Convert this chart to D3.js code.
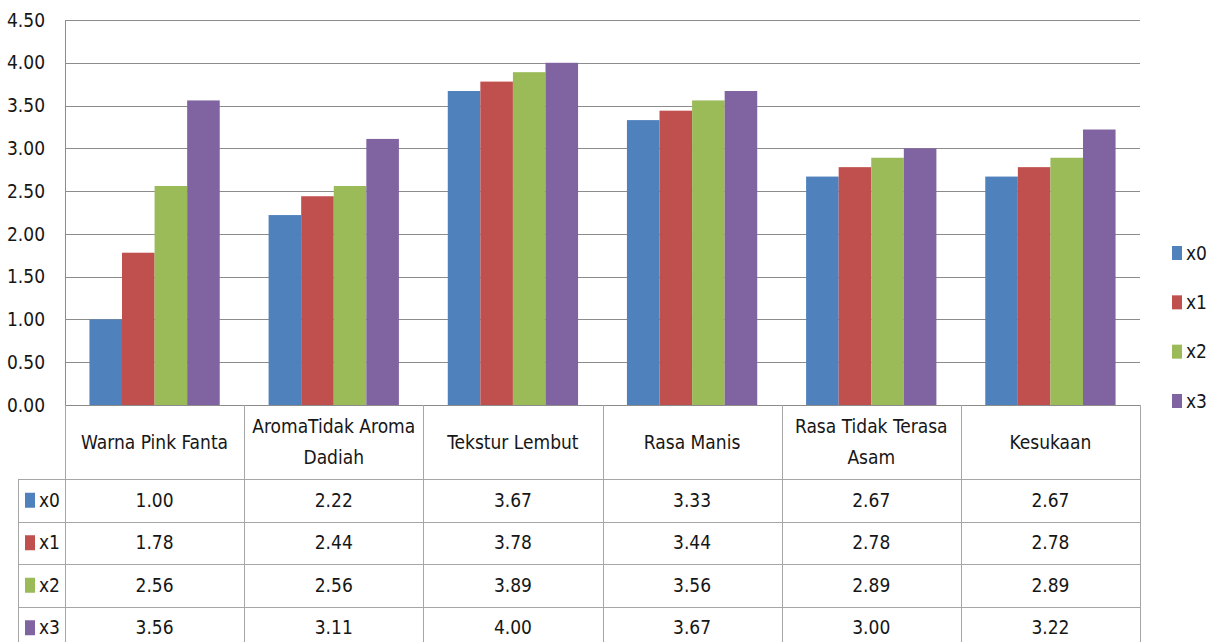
<!DOCTYPE html>
<html>
<head>
<meta charset="utf-8">
<script src="https://cdn.jsdelivr.net/npm/d3@7"></script>
<style>
  body { margin: 0; background: #fff; }
  svg { display: block; }
  text { font-family: "DejaVu Sans Condensed", "Liberation Sans", sans-serif; font-stretch: condensed; fill: #161616; }
</style>
</head>
<body>
<svg id="chart" width="1209" height="642"></svg>
<script>
// categories (two-line labels split with "|")
const categories = [
  "Warna Pink Fanta",
  "AromaTidak Aroma|Dadiah",
  "Tekstur Lembut",
  "Rasa Manis",
  "Rasa Tidak Terasa|Asam",
  "Kesukaan"
];
const seriesNames = ["x0", "x1", "x2", "x3"];
const x0Values = [1.00, 2.22, 3.67, 3.33, 2.67, 2.67];
const x1Values = [1.78, 2.44, 3.78, 3.44, 2.78, 2.78];
const x2Values = [2.56, 2.56, 3.89, 3.56, 2.89, 2.89];
const x3Values = [3.56, 3.11, 4.00, 3.67, 3.00, 3.22];
const yTicks = [0, 0.5, 1, 1.5, 2, 2.5, 3, 3.5, 4, 4.5];
const colors = ["#4F81BD", "#C0504D", "#9BBB59", "#8064A2"];

const series = [x0Values, x1Values, x2Values, x3Values];

const svg = d3.select("#chart");

const plotLeft = 65, plotRight = 1140, plotTop = 20, plotBottom = 405;
const tableLeft = 18;
const headerBottom = 479;
const rowH = 42.5;
const fontSize = 19;

const x = d3.scaleBand().domain(d3.range(categories.length)).range([plotLeft, plotRight]);
const xs = d3.scaleBand().domain(d3.range(seriesNames.length))
  .range([0, x.bandwidth()]).paddingInner(0).paddingOuter(0.75);
const y = d3.scaleLinear().domain([0, 4.5]).range([plotBottom, plotTop]);

// gridlines
svg.append("g")
  .selectAll("line")
  .data(yTicks)
  .join("line")
  .attr("x1", plotLeft)
  .attr("x2", plotRight)
  .attr("y1", d => Math.round(y(d)) + 0.5)
  .attr("y2", d => Math.round(y(d)) + 0.5)
  .attr("stroke", "#8c8c8c")
  .attr("stroke-width", 1);

// y labels
svg.append("g")
  .selectAll("text")
  .data(yTicks)
  .join("text")
  .attr("x", 45)
  .attr("y", d => y(d))
  .attr("dy", "0.35em")
  .attr("text-anchor", "end")
  .attr("font-size", fontSize)
  .text(d => d3.format(".2f")(d));

// bars
const groups = svg.append("g")
  .selectAll("g")
  .data(series)
  .join("g")
  .attr("fill", (d, i) => colors[i]);

groups.selectAll("rect")
  .data((d, si) => d.map((v, ci) => ({ v, ci, si })))
  .join("rect")
  .attr("x", d => x(d.ci) + xs(d.si))
  .attr("width", xs.bandwidth())
  .attr("y", d => y(d.v))
  .attr("height", d => y(0) - y(d.v));

// left axis line
svg.append("line")
  .attr("x1", plotLeft + 0.5).attr("x2", plotLeft + 0.5)
  .attr("y1", plotTop).attr("y2", plotBottom)
  .attr("stroke", "#8c8c8c");

// data table
const tableBottom = headerBottom + rowH * seriesNames.length;
const tbl = svg.append("g").attr("stroke", "#a6a6a6").attr("stroke-width", 1);

// vertical column lines
d3.range(categories.length + 1).forEach(i => {
  const xx = i < categories.length ? x(i) : plotRight;
  tbl.append("line")
    .attr("x1", Math.round(xx) + 0.5).attr("x2", Math.round(xx) + 0.5)
    .attr("y1", plotBottom).attr("y2", tableBottom);
});
tbl.append("line")
  .attr("x1", tableLeft + 0.5).attr("x2", tableLeft + 0.5)
  .attr("y1", headerBottom).attr("y2", tableBottom);

// horizontal row lines
d3.range(seriesNames.length + 1).forEach(r => {
  const yy = Math.round(headerBottom + r * rowH) + 0.5;
  tbl.append("line")
    .attr("x1", tableLeft).attr("x2", plotRight)
    .attr("y1", yy).attr("y2", yy);
});

// header labels
const header = svg.append("g")
  .selectAll("text")
  .data(categories)
  .join("text")
  .attr("text-anchor", "middle")
  .attr("font-size", fontSize)
  .attr("x", (d, i) => x(i) + x.bandwidth() / 2)
  .attr("y", (plotBottom + headerBottom) / 2);

header.each(function (d) {
  const lines = d.split("|");
  const t = d3.select(this);
  lines.forEach((ln, k) => {
    t.append("tspan")
      .attr("x", t.attr("x"))
      .attr("dy", k === 0 ? (0.35 - (lines.length - 1) * 0.8) + "em" : "1.6em")
      .text(ln);
  });
});

// row labels with keys
const rows = svg.append("g")
  .selectAll("g")
  .data(seriesNames)
  .join("g")
  .attr("transform", (d, i) => `translate(0,${headerBottom + i * rowH + rowH / 2})`);

rows.append("rect")
  .attr("x", 25).attr("y", -7.5)
  .attr("width", 10).attr("height", 15)
  .attr("fill", (d, i) => colors[i]);

rows.append("text")
  .attr("x", 39)
  .attr("dy", "0.35em")
  .attr("font-size", fontSize)
  .text(d => d);

rows.each(function (name, si) {
  d3.select(this).selectAll("text.val")
    .data(series[si])
    .join("text")
    .attr("class", "val")
    .attr("x", (v, ci) => x(ci) + x.bandwidth() / 2)
    .attr("dy", "0.35em")
    .attr("text-anchor", "middle")
    .attr("font-size", fontSize)
    .text(v => d3.format(".2f")(v));
});

// legend
const legendY = d3.scalePoint().domain(seriesNames).range([253, 401]);
const legend = svg.append("g")
  .selectAll("g")
  .data(seriesNames)
  .join("g")
  .attr("transform", d => `translate(1172,${legendY(d)})`);

legend.append("rect")
  .attr("x", 0).attr("y", -7)
  .attr("width", 10).attr("height", 14)
  .attr("fill", (d, i) => colors[i]);

legend.append("text")
  .attr("x", 14)
  .attr("dy", "0.35em")
  .attr("font-size", fontSize)
  .text(d => d);
</script>
</body>
</html>
